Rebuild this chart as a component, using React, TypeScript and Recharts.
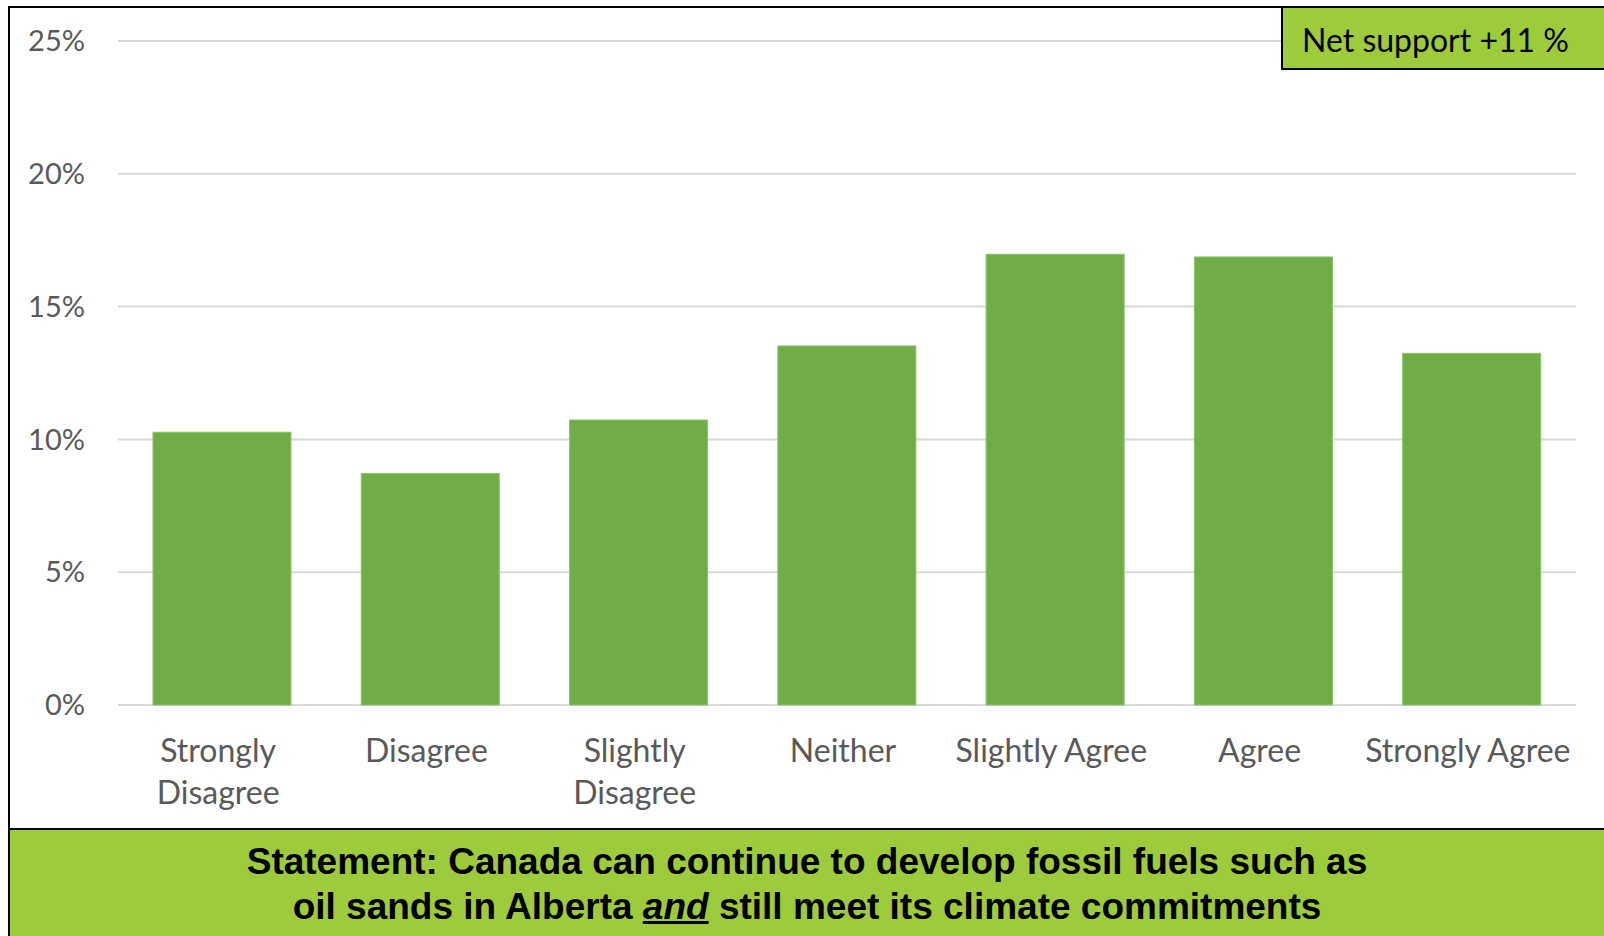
import React from "react"
import { Bar, BarChart, CartesianGrid, XAxis, YAxis } from "recharts"

// categories + share of respondents (%)
const categories = [
  "Strongly Disagree",
  "Disagree",
  "Slightly Disagree",
  "Neither",
  "Slightly Agree",
  "Agree",
  "Strongly Agree",
]
const shares = [10.27, 8.72, 10.73, 13.52, 16.97, 16.87, 13.24]
// how each tick label is broken onto lines
const tickLines = [
  ["Strongly", "Disagree"],
  ["Disagree"],
  ["Slightly", "Disagree"],
  ["Neither"],
  ["Slightly Agree"],
  ["Agree"],
  ["Strongly Agree"],
]
const yTicks = [0, 5, 10, 15, 20, 25]

const data = categories.map((name, i) => ({ name, share: shares[i] }))

const labelFont = "Lato, 'Open Sans', sans-serif"

function CategoryTick(props: any) {
  const { x, y, index } = props
  const lines = tickLines[index] || [props.payload.value]
  const cx = x - 4
  return (
    <text x={cx} y={y} textAnchor="middle" fill="#595959" fontSize={32} fontFamily={labelFont}>
      {lines.map((l: string, i: number) => (
        <tspan key={i} x={cx} y={y + 57 + i * 42}>
          {l}
        </tspan>
      ))}
    </text>
  )
}

export default function App() {
  return (
    <div
      style={{
        position: "fixed",
        left: 0,
        top: 0,
        width: 1604,
        height: 936,
        background: "#fff",
        overflow: "hidden",
      }}
    >
      <div style={{ position: "absolute", left: 0, top: 0 }}>
        <BarChart
          width={1604}
          height={830}
          data={data}
          margin={{ top: 41, right: 28, left: 8, bottom: 0 }}
          barCategoryGap="16.8%"
        >
          <CartesianGrid vertical={false} stroke="#d9d9d9" strokeWidth={2} />
          <XAxis
            dataKey="name"
            height={125}
            axisLine={false}
            tickLine={false}
            tickSize={0}
            tickMargin={0}
            interval={0}
            tick={<CategoryTick />}
          />
          <YAxis
            width={110}
            domain={[0, 25]}
            ticks={yTicks}
            axisLine={false}
            tickLine={false}
            tickSize={0}
            tickMargin={33}
            tickFormatter={(v) => `${v}%`}
            tick={{ fill: "#595959", fontSize: 29, fontFamily: labelFont }}
          />
          <Bar dataKey="share" fill="#70AD47" stroke="#8cc06a" strokeWidth={1} isAnimationActive={false} />
        </BarChart>
      </div>

      {/* outer frame */}
      <div
        style={{
          position: "absolute",
          left: 8,
          top: 6,
          width: 1700,
          height: 1000,
          border: "2px solid #000",
          pointerEvents: "none",
        }}
      />

      {/* net support badge */}
      <div
        style={{
          position: "absolute",
          left: 1281,
          top: 6,
          width: 400,
          height: 64,
          background: "#9ECB3B",
          border: "2px solid #000",
          fontFamily: labelFont,
          fontSize: 32,
          color: "#000",
          boxSizing: "border-box",
          paddingLeft: 19,
          paddingTop: 3,
          lineHeight: "58px",
        }}
      >
        Net support +11 %
      </div>

      {/* statement footer */}
      <div
        style={{
          position: "absolute",
          left: 8,
          top: 828,
          width: 1700,
          height: 200,
          background: "#9ECB3B",
          borderTop: "2px solid #000",
          borderLeft: "2px solid #000",
        }}
      />
      <div
        style={{
          position: "absolute",
          left: 8,
          top: 839,
          width: 1598,
          textAlign: "center",
          fontFamily: "'Liberation Sans', Arial, sans-serif",
          fontWeight: "bold",
          fontSize: 37,
          lineHeight: "45px",
          color: "#000",
          transform: "scaleX(1.0)",
          transformOrigin: "center top",
        }}
      >
        <div>Statement: Canada can continue to develop fossil fuels such as</div>
        <div>
          oil sands in Alberta{" "}
          <span style={{ fontStyle: "italic", textDecoration: "underline" }}>and</span> still meet its climate
          commitments
        </div>
      </div>
    </div>
  )
}
